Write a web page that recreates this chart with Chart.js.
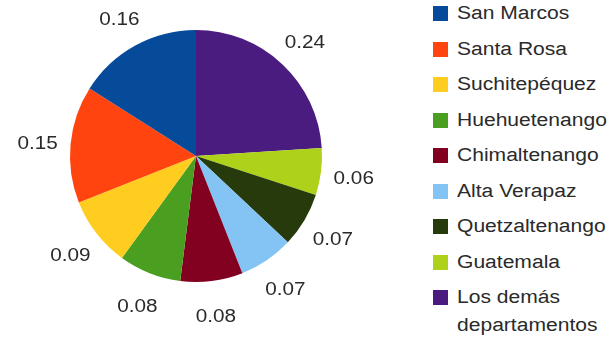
<!DOCTYPE html>
<html>
<head>
<meta charset="utf-8">
<script src="https://cdn.jsdelivr.net/npm/chart.js@4/dist/chart.umd.min.js"></script>
<style>
  html, body { margin: 0; padding: 0; background: #fff; }
  #wrap { position: relative; width: 616px; height: 339px; overflow: hidden; }
  #chartBox { position: absolute; left: 0; top: 0; width: 392px; height: 339px; }
  #legend { position: absolute; left: 433px; top: 0; width: 183px; height: 339px;
            font-family: "Liberation Sans", Arial, sans-serif; font-size: 18px; color: #2a2a2a; }
  .item { position: absolute; left: 0; height: 0; }
  .box { position: absolute; left: 0; top: -7px; width: 15px; height: 15px; }
  .txt { position: absolute; left: 24px; top: -11px; white-space: nowrap; line-height: 28px;
         transform: scaleX(1.17); transform-origin: 0 0; margin-top: -3px; }
</style>
</head>
<body>
<div id="wrap">
  <div id="chartBox"><canvas id="pie"></canvas></div>
  <div id="legend"></div>
</div>
<script>
// legend order (the pie runs counterclockwise from 12 o'clock in this order)
const labels = ["San Marcos", "Santa Rosa", "Suchitepéquez", "Huehuetenango", "Chimaltenango",
                "Alta Verapaz", "Quetzaltenango", "Guatemala", "Los demás departamentos"];
const values = [0.16, 0.15, 0.09, 0.08, 0.08, 0.07, 0.07, 0.06, 0.24];
const colors = ["#064a9a", "#ff4410", "#ffcc20", "#4a9e20", "#820020",
                "#84c4f4", "#263a0c", "#aed21a", "#4a1c80"];
const legendLines = [["San Marcos"], ["Santa Rosa"], ["Suchitepéquez"], ["Huehuetenango"],
                     ["Chimaltenango"], ["Alta Verapaz"], ["Quetzaltenango"], ["Guatemala"],
                     ["Los demás", "departamentos"]];

// Chart.js goes clockwise, so feed it reversed
const cLabels = labels.slice().reverse();
const cValues = values.slice().reverse();
const cColors = colors.slice().reverse();

// ------------------ VALUE LABELS ------------------
const outsideLabels = {
  id: "outsideLabels",
  afterDatasetsDraw(chart) {
    const c = chart.ctx;
    const meta = chart.getDatasetMeta(0);
    c.save();
    c.font = "18px 'Liberation Sans', Arial, sans-serif";
    c.fillStyle = "#2a2a2a";
    c.textAlign = "center";
    c.textBaseline = "middle";
    meta.data.forEach((arc, i) => {
      const p = arc.getProps(["x", "y", "startAngle", "endAngle", "outerRadius"], true);
      const mid = (p.startAngle + p.endAngle) / 2;
      const r = p.outerRadius + 33;
      const x = p.x + Math.cos(mid) * r;
      const y = p.y + Math.sin(mid) * r + 3;
      c.save();
      c.translate(x, y);
      c.scale(1.15, 1);
      c.fillText(cValues[i].toFixed(2), 0, 0);
      c.restore();
    });
    c.restore();
  }
};

// ------------------ CHART ------------------
new Chart(document.getElementById("pie"), {
  type: "pie",
  data: {
    labels: cLabels,
    datasets: [{
      data: cValues,
      backgroundColor: cColors,
      borderWidth: 0
    }]
  },
  options: {
    responsive: true,
    maintainAspectRatio: false,
    animation: false,
    layout: { padding: { top: 30, bottom: 57, left: 70, right: 70 } },
    plugins: {
      legend: { display: false },
      tooltip: { enabled: false }
    }
  },
  plugins: [outsideLabels]
});

// ------------------ LEGEND ------------------
const legendEl = document.getElementById("legend");
labels.forEach((name, i) => {
  const item = document.createElement("div");
  item.className = "item";
  item.style.top = (13 + i * 35.5) + "px";
  const box = document.createElement("div");
  box.className = "box";
  box.style.background = colors[i];
  const txt = document.createElement("div");
  txt.className = "txt";
  txt.innerHTML = legendLines[i].join("<br>");
  item.appendChild(box);
  item.appendChild(txt);
  legendEl.appendChild(item);
});
</script>
</body>
</html>
